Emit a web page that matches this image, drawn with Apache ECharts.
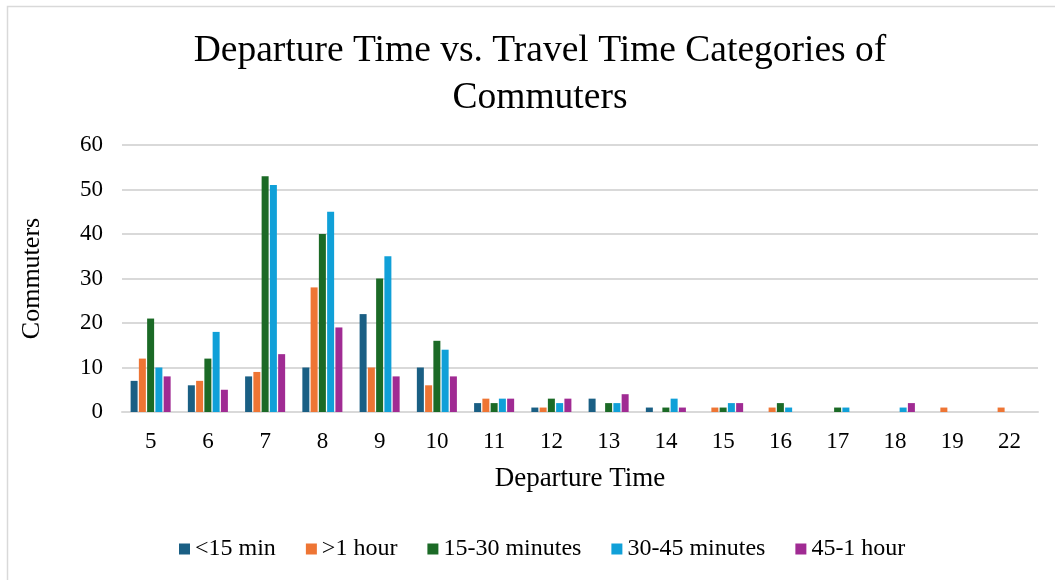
<!DOCTYPE html>
<html><head><meta charset="utf-8">
<script src="https://cdn.jsdelivr.net/npm/echarts@6/dist/echarts.min.js"></script>
<style>html,body{margin:0;padding:0;background:#fff}#c{width:1055px;height:580px}</style>
</head><body><div id="c"></div>
<script>
const categories = ['5','6','7','8','9','10','11','12','13','14','15','16','17','18','19','22'];
const seriesNames = ['<15 min','>1 hour','15-30 minutes','30-45 minutes','45-1 hour'];
const under15 = [7,6,8,10,22,10,2,1,3,1,null,null,null,null,null,null];
const over1h = [12,7,9,28,10,6,3,1,null,null,1,1,null,null,1,1];
const m15to30 = [21,12,53,40,30,16,2,3,2,1,1,2,1,null,null,null];
const m30to45 = [10,18,51,45,35,14,3,2,2,3,2,1,1,1,null,null];
const m45to60 = [8,5,13,19,8,8,3,3,4,1,2,null,null,2,null,null];
const colors = ['#1A5F84','#EE7534','#1B6A26','#10A0D8','#A02B93'];
const values = [under15, over1h, m15to30, m30to45, m45to60];
const font = 'Liberation Serif';
const chart = echarts.init(document.getElementById('c'));
chart.setOption({
  animation:false,
  textStyle:{fontFamily:font},
  graphic:[{type:'rect',shape:{x:7.5,y:6.5,width:1100,height:640},style:{fill:'none',stroke:'#D9D9D9',lineWidth:1.5},silent:true}],
  title:{text:'Departure Time vs. Travel Time Categories of\nCommuters',left:535,textAlign:'center',top:23,
    textStyle:{fontFamily:font,fontSize:37.5,fontWeight:'normal',color:'#000',lineHeight:47}},
  legend:{bottom:14,left:174,itemWidth:11,itemHeight:11,itemGap:30,icon:'rect',
    textStyle:{fontFamily:font,fontSize:24,color:'#000'},data:seriesNames},
  grid:{left:122,right:17,top:145,bottom:168},
  xAxis:{type:'category',data:categories,name:'Departure Time',nameLocation:'middle',nameGap:53,
    nameTextStyle:{fontFamily:font,fontSize:27,color:'#000'},
    axisLine:{lineStyle:{color:'#D9D9D9',width:2}},axisTick:{show:false},
    axisLabel:{fontFamily:font,fontSize:23,color:'#000',margin:18}},
  yAxis:{type:'value',min:0,max:60,interval:10,name:'Commuters',nameLocation:'middle',nameGap:77,
    nameTextStyle:{fontFamily:font,fontSize:26,color:'#000'},
    axisLine:{show:false},axisTick:{show:false},
    axisLabel:{fontFamily:font,fontSize:23,color:'#000',margin:19},
    splitLine:{lineStyle:{color:'#D9D9D9',width:2}}},
  series: seriesNames.map((n,i)=>({name:n,type:'bar',data:values[i],barWidth:7,barGap:'18%',
    itemStyle:{color:colors[i]}}))
});
</script></body></html>
